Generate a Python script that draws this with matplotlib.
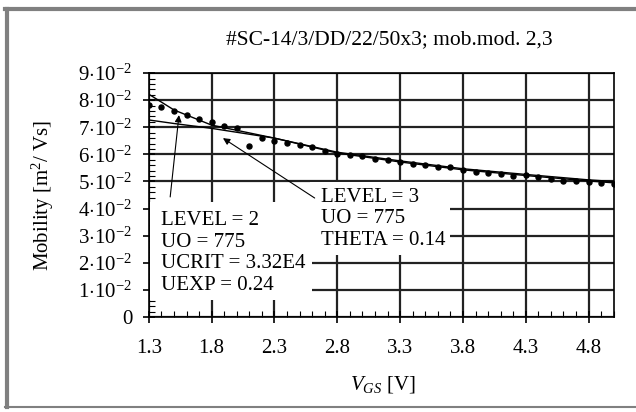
import matplotlib
matplotlib.use("Agg")
import matplotlib.pyplot as plt
from matplotlib.lines import Line2D
from matplotlib.patches import Rectangle
from matplotlib.ticker import MultipleLocator, FixedLocator, FuncFormatter

plt.rcParams['font.family'] = 'Liberation Serif'
plt.rcParams['mathtext.fontset'] = 'custom'
plt.rcParams['mathtext.rm'] = 'Liberation Serif'
plt.rcParams['mathtext.it'] = 'Liberation Serif:italic'

# measured mobility (dots), every 0.1 V
vgs_meas = [1.3, 1.4, 1.5, 1.6, 1.7, 1.8, 1.9, 2.0, 2.1, 2.2, 2.3, 2.4, 2.5,
            2.6, 2.7, 2.8, 2.9, 3.0, 3.1, 3.2, 3.3, 3.4, 3.5, 3.6, 3.7, 3.8,
            3.9, 4.0, 4.1, 4.2, 4.3, 4.4, 4.5, 4.6, 4.7, 4.8, 4.9, 5.0]
mob_meas = [0.0782, 0.0776, 0.0760, 0.0745, 0.0732, 0.0720, 0.0705, 0.0699,
            0.0630, 0.0662, 0.0649, 0.0642, 0.0634, 0.0626, 0.0614, 0.0600,
            0.0597, 0.0593, 0.0584, 0.0580, 0.0573, 0.0565, 0.0560, 0.0552,
            0.0552, 0.0542, 0.0535, 0.0530, 0.0527, 0.0521, 0.0523, 0.0516,
            0.0510, 0.0502, 0.0502, 0.0499, 0.0496, 0.0490]

# model curves
vgs_model = [1.3, 1.5, 1.8, 2.3, 2.8, 3.3, 3.8, 4.3, 4.8, 5.0]
mob_level2 = [0.0822, 0.0764, 0.0708, 0.0660, 0.0605, 0.0572, 0.0543, 0.0522, 0.0502, 0.0495]
mob_level3 = [0.0727, 0.0714, 0.0696, 0.0660, 0.0608, 0.0576, 0.0547, 0.0526, 0.0506, 0.0500]

x_ticks = [1.3, 1.8, 2.3, 2.8, 3.3, 3.8, 4.3, 4.8]
y_ticks = [0, 0.01, 0.02, 0.03, 0.04, 0.05, 0.06, 0.07, 0.08, 0.09]

label_l2 = 'LEVEL = 2\nUO = 775\nUCRIT = 3.32E4\nUEXP = 0.24'
label_l3 = 'LEVEL = 3\nUO = 775\nTHETA = 0.14'

fig = plt.figure(figsize=(6.36, 4.12), dpi=100)
ax = fig.add_axes([0.234, 0.2306, 0.731, 0.592])

ax.plot(vgs_model, mob_level2, color='black', lw=1.0, zorder=2)
ax.plot(vgs_model, mob_level3, color='black', lw=1.0, zorder=2)
ax.plot(vgs_meas, mob_meas, 'o', color='black', ms=3.6, zorder=2)

ax.set_xlim(1.3, 5.0)
ax.set_ylim(0, 0.09)
ax.xaxis.set_major_locator(FixedLocator(x_ticks))
ax.xaxis.set_minor_locator(MultipleLocator(0.1))
ax.yaxis.set_major_locator(FixedLocator(y_ticks))
ax.yaxis.set_minor_locator(MultipleLocator(0.002))


def yfmt(v, pos):
    n = int(round(v * 100))
    if n == 0:
        return '0'
    return r'%d$\cdot$10$^{\mathregular{-2}}$' % n


ax.yaxis.set_major_formatter(FuncFormatter(yfmt))
ax.xaxis.set_major_formatter(FuncFormatter(lambda v, p: '%.1f' % v))
ax.tick_params(which='major', direction='inout', length=8, width=1.2, labelsize=15)
ax.tick_params(which='minor', direction='in', length=4, width=0.8)
ax.tick_params(axis='x', pad=12)
ax.tick_params(axis='y', pad=8)

ax.set_axisbelow(True)
ax.grid(True, which='major', color='#222222', lw=1.6)
for s in ax.spines.values():
    s.set_linewidth(1.2)

ax.set_xlabel(r'$V_{GS}$ [V]', fontsize=15)
ax.xaxis.set_label_coords(0.503, -0.235)
ax.set_ylabel(r'Mobility [m$^{\mathregular{2}}$/ Vs]', fontsize=15)
ax.yaxis.set_label_coords(-0.20, 0.50)
fig.text(0.612, 0.903, '#SC-14/3/DD/22/50x3; mob.mod. 2,3', ha='center', va='center', fontsize=15.5)

# white boxes that hide the grid behind the annotations
ax.add_patch(Rectangle((1.31, 0.0063), 1.29, 0.0361, facecolor='white', edgecolor='none', zorder=1))
ax.add_patch(Rectangle((2.58, 0.0229), 1.12, 0.0270, facecolor='white', edgecolor='none', zorder=1))

ax.text(1.40, 0.0236, label_l2, fontsize=15, va='center', ha='left', linespacing=1.2, zorder=3)
ax.text(2.67, 0.0362, label_l3, fontsize=15, va='center', ha='left', linespacing=1.2, zorder=3)

arrow = dict(arrowstyle='-|>', color='black', lw=0.8, mutation_scale=10, shrinkA=0, shrinkB=0)
ax.annotate('', xy=(1.54, 0.0745), xytext=(1.47, 0.0443), arrowprops=arrow, zorder=4)
ax.annotate('', xy=(1.89, 0.0660), xytext=(2.62, 0.0439), arrowprops=arrow, zorder=4)

# outer gray frame
fig.add_artist(Line2D([0.008, 1.0], [0.978, 0.978], color='#808080', lw=3, transform=fig.transFigure))
fig.add_artist(Line2D([0.011, 0.011], [0.012, 0.978], color='#808080', lw=3, transform=fig.transFigure))
fig.add_artist(Line2D([0.008, 1.0], [0.012, 0.012], color='#808080', lw=1.5, transform=fig.transFigure))

fig.savefig('out.png', dpi=100)
